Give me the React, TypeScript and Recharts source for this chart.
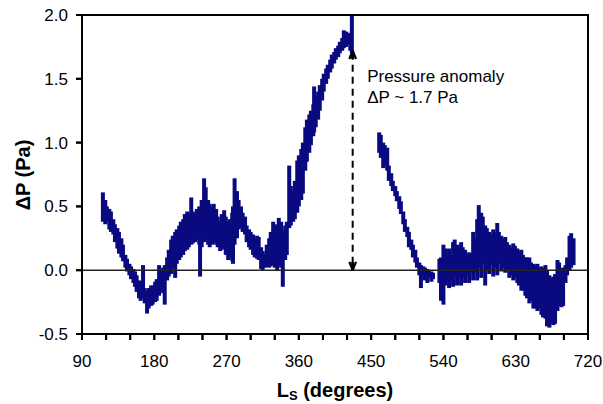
import React from 'react';
import { ComposedChart, Scatter, XAxis, YAxis, ReferenceLine, ReferenceDot, Label } from 'recharts';

// each row: [Ls (deg), lowest ΔP (Pa), highest ΔP (Pa)]
const riseSegment: [number, number, number][] = [
  [116, 0.38, 0.61], [119, 0.36, 0.55], [121, 0.38, 0.5], [124, 0.32, 0.48], [126, 0.3, 0.46],
  [129, 0.28, 0.4], [131, 0.22, 0.36], [134, 0.17, 0.33], [136, 0.13, 0.3], [139, 0.1, 0.25],
  [141, 0.07, 0.2], [144, 0.02, 0.12], [146, -0.01, 0.09], [149, -0.04, 0.05], [151, -0.07, 0.03],
  [154, -0.1, 0.01], [156, -0.13, -0.01], [158, -0.17, -0.04], [161, -0.22, -0.08], [163, -0.24, -0.1],
  [166, -0.22, 0.04], [168, -0.26, -0.14], [171, -0.34, -0.16], [173, -0.3, -0.14], [176, -0.28, -0.12],
  [178, -0.27, -0.12], [181, -0.25, -0.09], [183, -0.24, -0.07], [186, -0.2, 0.04], [188, -0.16, 0.0],
  [191, -0.18, 0.02], [193, -0.27, 0.04], [196, -0.08, 0.1], [198, -0.05, 0.16], [201, -0.03, 0.24],
  [203, 0.02, 0.27], [206, -0.06, 0.3], [208, 0.05, 0.32], [211, 0.08, 0.35], [213, 0.1, 0.38],
  [216, 0.12, 0.4], [218, 0.15, 0.44], [221, 0.16, 0.46], [223, 0.18, 0.45], [226, 0.2, 0.57],
  [228, 0.21, 0.46], [231, 0.22, 0.44], [233, 0.24, 0.48], [236, 0.2, 0.5], [237, -0.05, 0.45],
  [239, 0.18, 0.55], [242, 0.22, 0.72], [244, 0.24, 0.65], [247, 0.2, 0.55], [249, 0.18, 0.52],
  [252, 0.2, 0.5], [254, 0.22, 0.52], [257, 0.2, 0.48], [259, 0.18, 0.42], [262, 0.15, 0.38],
  [264, 0.16, 0.44], [267, 0.17, 0.47], [269, 0.12, 0.42], [272, 0.08, 0.38], [274, 0.1, 0.4],
  [277, 0.07, 0.45], [278, 0.05, 0.5], [280, 0.2, 0.72], [283, 0.25, 0.62], [285, 0.32, 0.55],
  [288, 0.33, 0.5], [290, 0.3, 0.45], [293, 0.28, 0.42], [295, 0.22, 0.35], [298, 0.18, 0.32],
  [300, 0.16, 0.3], [303, 0.12, 0.28], [305, 0.1, 0.25], [308, 0.09, 0.27], [310, 0.08, 0.26],
  [313, 0.01, 0.18], [315, 0.0, 0.15], [318, 0.02, 0.13], [320, 0.03, 0.2], [323, 0.02, 0.25],
  [325, 0.03, 0.3], [328, 0.04, 0.38], [330, 0.02, 0.35], [333, 0.0, 0.36], [335, 0.03, 0.41],
  [338, 0.02, 0.38], [340, -0.13, 0.31], [343, 0.08, 0.35], [345, 0.12, 0.38], [348, 0.33, 0.82],
  [350, 0.35, 0.66], [353, 0.38, 0.62], [355, 0.4, 0.7], [358, 0.45, 0.86], [360, 0.5, 0.9],
  [363, 0.55, 0.95], [365, 0.6, 1.0], [368, 0.78, 1.12], [370, 0.85, 1.18], [373, 0.92, 1.22],
  [375, 0.98, 1.25], [378, 1.05, 1.3], [379, 1.08, 1.44], [381, 1.12, 1.36], [384, 1.18, 1.4],
  [386, 1.25, 1.45], [389, 1.33, 1.5], [391, 1.4, 1.54], [394, 1.46, 1.58], [396, 1.5, 1.61],
  [399, 1.55, 1.65], [401, 1.58, 1.69], [404, 1.62, 1.71], [406, 1.65, 1.74], [409, 1.67, 1.76],
  [411, 1.7, 1.79], [414, 1.72, 1.82], [416, 1.74, 1.88], [419, 1.75, 1.87], [421, 1.77, 1.85],
  [424, 1.72, 1.86], [426, 1.7, 2.0],
];

const dropSegment: [number, number, number][] = [
  [460, 0.92, 1.08], [462, 0.88, 1.06], [465, 0.8, 1.0], [467, 0.82, 0.98], [470, 0.78, 0.96],
  [472, 0.7, 0.82], [475, 0.66, 0.76], [477, 0.62, 0.7], [480, 0.58, 0.66], [482, 0.54, 0.62],
  [485, 0.48, 0.58], [487, 0.44, 0.54], [490, 0.36, 0.46], [492, 0.3, 0.4], [495, 0.26, 0.34],
  [497, 0.18, 0.3], [500, 0.16, 0.24], [502, 0.1, 0.2], [505, 0.06, 0.16], [507, 0.02, 0.1],
  [510, -0.04, 0.06], [512, -0.14, 0.04], [515, -0.05, 0.03], [517, -0.08, 0.02], [520, -0.1, 0.01],
  [522, -0.06, 0.0], [525, -0.09, -0.01], [527, -0.07, -0.02],
];

const tailSegment: [number, number, number][] = [
  [535, -0.1, 0.09], [537, -0.24, 0.1], [540, -0.27, 0.2], [542, -0.12, 0.17], [544, -0.1, 0.12],
  [547, -0.14, 0.17], [549, -0.08, 0.12], [552, -0.13, 0.22], [554, -0.06, 0.24], [557, -0.12, 0.2],
  [559, -0.05, 0.18], [562, -0.12, 0.22], [564, -0.06, 0.18], [567, -0.1, 0.16], [569, -0.04, 0.12],
  [572, -0.1, 0.14], [574, -0.02, 0.13], [577, -0.08, 0.3], [579, -0.02, 0.25], [582, -0.08, 0.4],
  [584, 0.02, 0.51], [587, -0.06, 0.45], [589, 0.05, 0.42], [592, -0.12, 0.35], [594, 0.0, 0.33],
  [597, -0.03, 0.3], [599, 0.04, 0.28], [602, -0.05, 0.32], [604, 0.02, 0.3], [607, -0.04, 0.37],
  [609, 0.05, 0.3], [612, -0.01, 0.27], [614, 0.02, 0.25], [617, -0.02, 0.26], [619, 0.0, 0.22],
  [622, -0.06, 0.2], [624, -0.04, 0.18], [627, -0.08, 0.21], [629, -0.06, 0.19], [632, -0.1, 0.17],
  [634, -0.12, 0.15], [637, -0.16, 0.16], [639, -0.16, 0.12], [642, -0.2, 0.1], [644, -0.22, 0.1],
  [647, -0.26, 0.1], [649, -0.24, 0.06], [652, -0.3, 0.05], [654, -0.3, 0.04], [657, -0.32, 0.05],
  [659, -0.3, 0.02], [662, -0.35, 0.03], [664, -0.37, 0.02], [667, -0.38, 0.04], [669, -0.44, 0.0],
  [672, -0.45, -0.04], [674, -0.42, -0.06], [677, -0.43, -0.05], [679, -0.42, -0.03], [682, -0.32, 0.08],
  [684, -0.28, 0.06], [687, -0.29, 0.0], [689, -0.28, 0.02], [692, -0.1, 0.04], [694, -0.04, 0.1],
  [697, 0.0, 0.27], [699, 0.02, 0.29], [702, 0.04, 0.25],
];

const xTicks = [90, 120, 150, 180, 210, 240, 270, 300, 330, 360, 390, 420, 450, 480, 510, 540, 570, 600, 630, 660, 690, 720];
const yTicks = [-0.5, 0, 0.5, 1.0, 1.5, 2.0];
const xDomain: [number, number] = [90, 720];
const yDomain: [number, number] = [-0.5, 2.0];

// dashed double arrow marking the anomaly
const arrowLs = 427;
const arrowTop = 1.72;
const noteLines = ['Pressure anomaly', '\u0394P ~ 1.7 Pa'];
const noteLs = 445;
const noteDp = 1.476;

const NAVY = '#0a0a80';
const FONT = '"Liberation Sans", Arial, sans-serif';

// chart geometry
const W = 603;
const H = 404;
const MARGIN = { top: 15, right: 15, bottom: 30, left: 22 };
const Y_AXIS_W = 60;
const X_AXIS_H = 40;
const PLOT_L = MARGIN.left + Y_AXIS_W;
const PLOT_R = W - MARGIN.right;
const PLOT_T = MARGIN.top;
const PLOT_B = H - MARGIN.bottom - X_AXIS_H;
const TICK = 6;

// arrow head half-width (deg) and height (Pa)
const HEAD_W = 4.2;
const HEAD_H = 0.065;

const columns = [...riseSegment, ...dropSegment, ...tailSegment];
// centre of each sample, gives the axes their data (drawn without fill)
const centres = columns.map(([ls, lo, hi]) => ({ ls, mid: (lo + hi) / 2 }));

// same linear maps as the chart axes, used for the frame overlay
const px = (v: number) => PLOT_L + ((v - xDomain[0]) / (xDomain[1] - xDomain[0])) * (PLOT_R - PLOT_L);
const py = (v: number) => PLOT_B - ((v - yDomain[0]) / (yDomain[1] - yDomain[0])) * (PLOT_B - PLOT_T);

function FrameOverlay() {
  return (
    <svg width={W} height={H} style={{ position: 'absolute', left: 0, top: 0, pointerEvents: 'none' }}>
      <rect x={PLOT_L} y={PLOT_T} width={PLOT_R - PLOT_L} height={PLOT_B - PLOT_T} fill="none" stroke="#000" strokeWidth={2} />
      {xTicks.map((t) => (
        <line key={'xt' + t} x1={px(t)} x2={px(t)} y1={PLOT_B} y2={PLOT_B + TICK} stroke="#000" strokeWidth={2} />
      ))}
      {yTicks.map((t) => (
        <line key={'yt' + t} x1={PLOT_L - TICK} x2={PLOT_L} y1={py(t)} y2={py(t)} stroke="#000" strokeWidth={2} />
      ))}
    </svg>
  );
}

export default function App() {
  const axisStyle = { fill: '#000', fontSize: 17, fontFamily: FONT };
  const heads: { tip: number; dir: number }[] = [
    { tip: arrowTop, dir: -1 },
    { tip: 0, dir: 1 },
  ];
  return (
    <div style={{ position: 'absolute', left: 0, top: 0, width: W, height: H, background: '#fff' }}>
      <ComposedChart width={W} height={H} margin={MARGIN}>
        <XAxis
          dataKey="ls"
          type="number"
          domain={xDomain}
          ticks={xTicks}
          interval={0}
          tickFormatter={(v: number) => (v % 90 === 0 ? String(v) : '')}
          tickSize={TICK}
          tickMargin={15}
          height={X_AXIS_H}
          tick={axisStyle}
          axisLine={{ stroke: '#000', strokeWidth: 2 }}
          tickLine={{ stroke: '#000', strokeWidth: 2 }}
        >
          <Label
            content={() => (
              <text x={335} y={397} textAnchor="middle" fontSize={20} fontWeight="bold" fontFamily={FONT} fill="#000">
                L<tspan fontSize={13} dy={3}>S</tspan>
                <tspan dy={-3}> (degrees)</tspan>
              </text>
            )}
          />
        </XAxis>
        <YAxis
          dataKey="mid"
          type="number"
          domain={yDomain}
          ticks={yTicks}
          interval={0}
          tickFormatter={(v: number) => v.toFixed(1)}
          tickSize={TICK}
          tickMargin={8}
          width={Y_AXIS_W}
          tick={axisStyle}
          axisLine={{ stroke: '#000', strokeWidth: 2 }}
          tickLine={{ stroke: '#000', strokeWidth: 2 }}
        >
          <Label
            content={() => (
              <text x={30} y={175} transform="rotate(-90, 30, 175)" textAnchor="middle" fontSize={20} fontWeight="bold" fontFamily={FONT} fill="#000">
                {'\u0394P (Pa)'}
              </text>
            )}
          />
        </YAxis>

        <Scatter data={centres} dataKey="mid" fill="none" stroke="none" isAnimationActive={false} />

        {/* dense measurement band: one vertical stroke per sample from lowest to highest value */}
        {columns.map(([ls, lo, hi]) => (
          <ReferenceLine key={'c' + ls} segment={[{ x: ls, y: lo }, { x: ls, y: hi }]} stroke={NAVY} strokeWidth={4} ifOverflow="visible" />
        ))}

        <ReferenceLine y={0} stroke="#222" strokeWidth={1.5} />

        <ReferenceLine
          segment={[{ x: arrowLs, y: 0.05 }, { x: arrowLs, y: arrowTop - 0.05 }]}
          stroke="#000"
          strokeWidth={2}
          strokeDasharray="7 5"
        />
        {heads.map((h, i) => (
          <React.Fragment key={'h' + i}>
            <ReferenceLine segment={[{ x: arrowLs - HEAD_W, y: h.tip + h.dir * HEAD_H }, { x: arrowLs, y: h.tip }]} stroke="#000" strokeWidth={2.2} ifOverflow="visible" />
            <ReferenceLine segment={[{ x: arrowLs + HEAD_W, y: h.tip + h.dir * HEAD_H }, { x: arrowLs, y: h.tip }]} stroke="#000" strokeWidth={2.2} ifOverflow="visible" />
            <ReferenceLine segment={[{ x: arrowLs, y: h.tip + h.dir * HEAD_H }, { x: arrowLs, y: h.tip }]} stroke="#000" strokeWidth={3} ifOverflow="visible" />
          </React.Fragment>
        ))}

        <ReferenceDot x={noteLs} y={noteDp} r={1} fill="none" stroke="none" ifOverflow="visible">
          <Label
            content={(p: any) => {
              const vb = p.viewBox || {};
              const x = (vb.x ?? 0) + (vb.width ?? 0) / 2;
              const y = (vb.y ?? 0) + (vb.height ?? 0) / 2;
              return (
                <text x={x} y={y} fontSize={17} fontFamily={FONT} fill="#000">
                  {noteLines.map((t, i) => (
                    <tspan key={i} x={x} dy={i === 0 ? 0 : 21}>{t}</tspan>
                  ))}
                </text>
              );
            }}
          />
        </ReferenceDot>
      </ComposedChart>
      <FrameOverlay />
    </div>
  );
}
